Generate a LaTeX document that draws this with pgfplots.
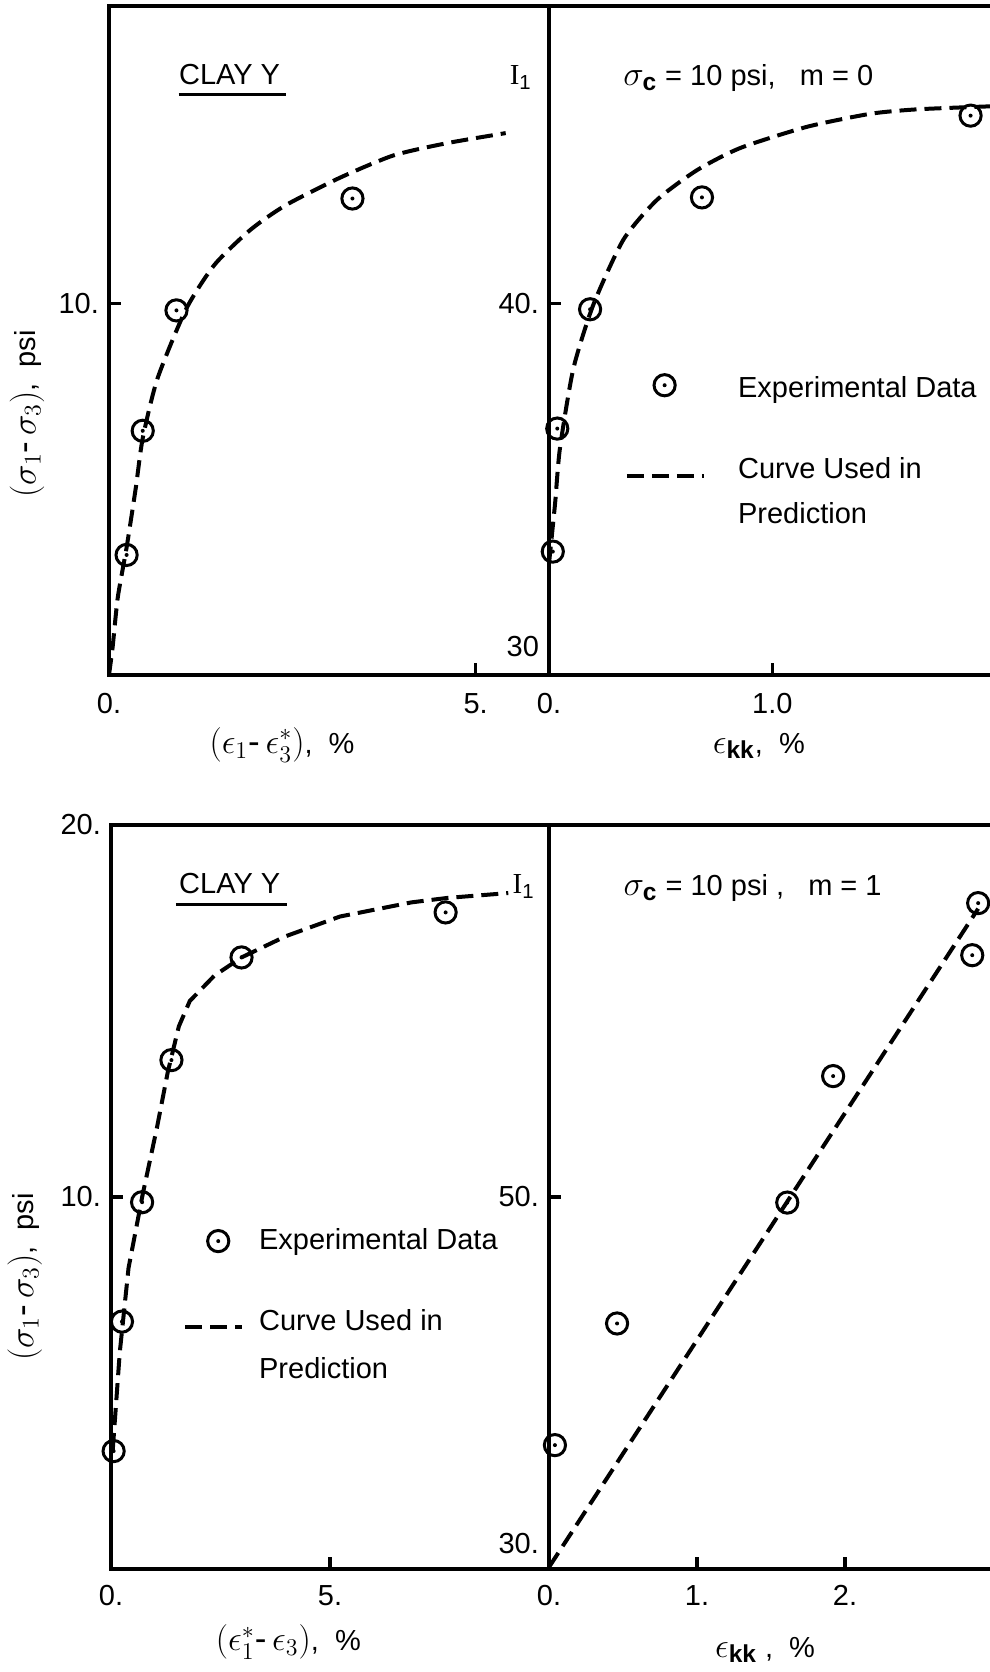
\documentclass[border=0pt]{standalone}
\usepackage{amsmath}
\usepackage{fontspec}
\setmainfont{Liberation Sans}
\newfontfamily\serif{Liberation Serif}
\usepackage{pgfplots}
\pgfplotsset{compat=1.18}

\newcommand\clayfont{\fontsize{14.5}{17.4}\selectfont}
% Greek symbols set a little larger so they sit well beside the sans text
\newcommand\mth[1]{{\fontsize{17.5}{20}\selectfont$#1$}}
\newcommand\hy{\text{-}\,}
\newcommand\Ione{{\serif I}\textsubscript{1}}

% open circle with a centre dot
\pgfdeclareplotmark{odot}{%
  \pgfpathcircle{\pgfpointorigin}{\pgfplotmarksize}\pgfusepathqstroke
  \pgfpathcircle{\pgfpointorigin}{1pt}\pgfusepathqfill}

\pgfplotsset{
  panel/.style={
    scale only axis, anchor=south west, clip=false,
    axis line style={line width=1.6pt},
    every tick/.style={black, line width=1.6pt},
    major tick length=6pt,
    xtick pos=left, ytick pos=left,
    font=\clayfont,
    ticklabel style={font=\clayfont},
    legend style={draw=none, fill=none, inner sep=0pt, outer sep=0pt,
      anchor=north west, font=\clayfont,
      cells={anchor=base west, inner sep=0pt, text height=13pt, text depth=3pt}},
  },
  openright/.style={axis x line*=box, axis y line*=left},
  data/.style={only marks, mark=odot, mark size=5.3pt,
    mark options={line width=1.5pt, solid}},
  fit/.style={no markers, line width=2pt, dash pattern=on 8.5pt off 4pt},
  % legend symbols: a single circle at (x,y), or a dashed stroke of length x at height y
  markleg/.style args={#1,#2}{legend image code/.code={\draw[##1] plot coordinates {(#1,#2)};}},
  lineleg/.style args={#1,#2}{legend image code/.code={\draw[##1] (0pt,#2) -- (#1,#2);}},
}

\begin{document}
\clayfont
\begin{tikzpicture}
\useasboundingbox (0,0) rectangle (495pt,836pt);

% ---------- upper left: deviator stress vs. shear strain ----------
\begin{axis}[panel, at={(54.5pt,498.5pt)}, width=220pt, height=334.5pt,
  xmin=0, xmax=6, ymin=0, ymax=18, tick align=inside,
  xtick={0,5}, xticklabels={0.,5.}, xticklabel style={yshift=-4pt},
  ytick={10}, yticklabels={10.}]
\addplot[data] coordinates {(0.24,3.23) (0.46,6.57) (0.92,9.81) (3.32,12.82)};
\addplot[fit, smooth, tension=0.4] coordinates {
  (0,0) (0.05,0.76) (0.12,2.09) (0.24,3.43) (0.365,5.03) (0.46,6.37)
  (0.66,7.97) (1.05,9.84) (1.44,11.04) (1.93,11.98) (2.41,12.64)
  (3.15,13.38) (3.88,13.98) (4.61,14.31) (5.41,14.58)};
\node[anchor=base west, inner sep=0pt] (clayA) at (axis cs:0.95,15.88) {CLAY Y};
\draw[line width=1.4pt] ([yshift=-4.7pt]clayA.base west) -- ([yshift=-4.7pt,xshift=3pt]clayA.base east);
\node[anchor=base west, inner sep=0pt] at (axis cs:5.46,15.88) {\Ione};
\node at (axis cs:2.36,-1.88) {\mth{(\epsilon_{1}\hy\epsilon_{3}^{*})},\ \ \%};
\node[rotate=90] at (axis cs:-1.12,7.03) {\mth{(\sigma_{1}\hy\sigma_{3})},\ \ psi};
\end{axis}

% ---------- upper right: first invariant vs. volumetric strain ----------
\begin{axis}[panel, openright, at={(274.5pt,498.5pt)}, width=220.5pt, height=334.5pt,
  xmin=0, xmax=1.975, ymin=30, ymax=48, tick align=inside,
  xtick={0,1}, xticklabels={0.,1.0}, xticklabel style={yshift=-4pt},
  ytick={30,40}, yticklabels={\smash{\raisebox{9pt}{30}},40.},
  legend style={at={(axis cs:0.340,38.27)}, row sep=21.35pt, column sep=14.25pt}]
\addplot[data, markleg={18.85pt,6.2pt}]
  coordinates {(0.017,33.32) (0.037,36.63) (0.184,39.84) (0.685,42.85) (1.888,45.05)};
\addlegendentry{Experimental Data}
\addplot[fit, smooth, tension=0.4, lineleg={38.35pt,1.4pt}] coordinates {
  (0,33.0) (0.027,34.6) (0.049,36.1) (0.109,38.24) (0.199,39.97) (0.333,41.71)
  (0.483,42.78) (0.662,43.58) (0.857,44.18) (1.156,44.75) (1.44,45.1)
  (1.65,45.22) (1.975,45.3)};
\addlegendentry{\vtop{\baselineskip=22.35pt\hbox{Curve Used in}\hbox{Prediction}}}
\node[anchor=base west, inner sep=0pt] at (axis cs:0.331,45.86)
  {\mth{\sigma_{\textbf{c}}} = 10 psi,\ \ \ m = 0};
\node at (axis cs:0.94,28.09) {\mth{\epsilon_{\textbf{kk}}},\ \ \%};
\end{axis}

% ---------- lower left ----------
\begin{axis}[panel, at={(55.5pt,51.5pt)}, width=219pt, height=372pt,
  xmin=0, xmax=10, ymin=0, ymax=20, tick align=inside,
  xtick={0,5}, xticklabels={0.,5.}, xticklabel style={yshift=-3pt},
  ytick={10,20}, yticklabels={10.,20.},
  legend style={at={(axis cs:1.647,9.39)}, row sep=21.4pt, column sep=5.5pt}]
\addplot[data, markleg={16.55pt,4.3pt}]
  coordinates {(0.06,3.17) (0.25,6.65) (0.71,9.86) (1.38,13.68) (2.98,16.44) (7.64,17.65)};
\addlegendentry{Experimental Data}
\addplot[fit, lineleg={28.5pt,1.7pt}] coordinates {
  (0.04,3.2) (0.2,5.82) (0.4,8.09) (0.72,10.05) (1.05,11.87) (1.3,13.38)
  (1.55,14.59) (1.8,15.27) (2.36,15.95) (2.98,16.44) (3.99,17.01)
  (5.23,17.54) (6.86,17.92) (7.68,18.04) (9.07,18.17)};
\addlegendentry{\vtop{\baselineskip=23.6pt\hbox{Curve Used in}\hbox{Prediction}}}
\node[anchor=base west, inner sep=0pt] (clayB) at (axis cs:1.549,18.15) {CLAY Y};
\draw[line width=1.4pt] ([yshift=-5.5pt,xshift=-1.5pt]clayB.base west) -- ([yshift=-5.5pt,xshift=3pt]clayB.base east);
\node[anchor=base west, inner sep=0pt] at (axis cs:9.16,18.15) {\Ione};
\node at (axis cs:4.05,-1.96) {\mth{(\epsilon_{1}^{*}\hy\epsilon_{3})},\ \ \%};
\node[rotate=90] at (axis cs:-1.97,7.85) {\mth{(\sigma_{1}\hy\sigma_{3})},\ \ psi};
\end{axis}

% ---------- lower right ----------
\begin{axis}[panel, openright, at={(274.5pt,51.5pt)}, width=220.5pt, height=372pt,
  xmin=0, xmax=2.98, ymin=30, ymax=70, tick align=inside,
  xtick={0,1,2}, xticklabels={0.,1.,2.}, xticklabel style={yshift=-3pt},
  ytick={30,50}, yticklabels={\smash{\raisebox{7.5pt}{30.}},50.}]
\addplot[data] coordinates {(0.04,36.66) (0.46,43.2) (1.61,49.7) (1.92,56.5) (2.86,63.0) (2.90,65.8)};
\addplot[fit] coordinates {(0,30.1) (2.9,65.5)};
\node[anchor=base west, inner sep=0pt] at (axis cs:0.502,66.2)
  {\mth{\sigma_{\textbf{c}}} = 10 psi ,\ \ \ m = 1};
\node at (axis cs:1.46,25.65) {\mth{\epsilon_{\textbf{kk}}} ,\ \ \%};
\end{axis}
\end{tikzpicture}
\end{document}
